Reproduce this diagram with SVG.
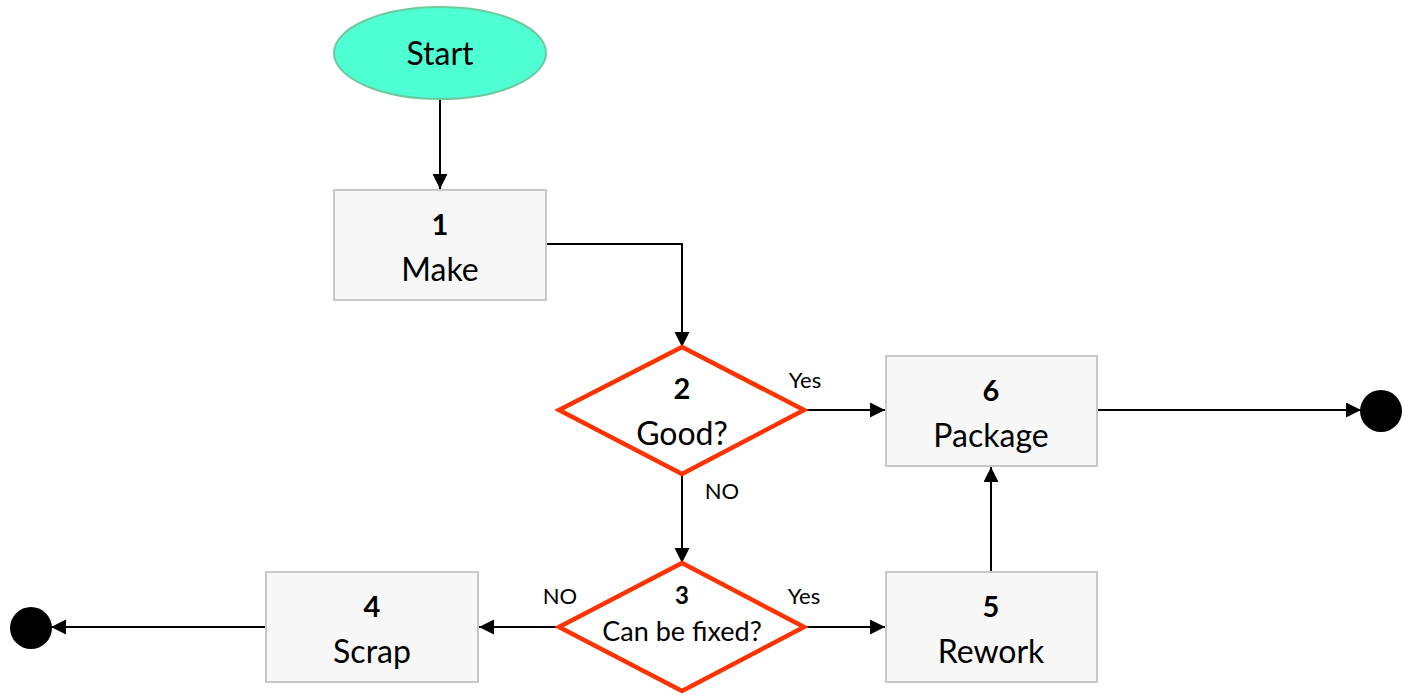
<svg xmlns="http://www.w3.org/2000/svg" width="1402" height="695" viewBox="0 0 1402 695">
  <style>
    .box { fill: #f7f7f7; stroke: #c8c8c8; stroke-width: 2; }
    .dec { fill: #ffffff; stroke: #ff3300; stroke-width: 4.5; stroke-linejoin: miter; }
    .term { fill: #000000; }
    .wire { fill: none; stroke: #000000; stroke-width: 2; }
    text { font-family: Lato, "Noto Sans", "Liberation Sans", sans-serif; fill: #000000; text-anchor: middle; }
    .num { font-weight: bold; font-size: 29px; }
    .lbl { font-size: 32px; }
    .num-s { font-weight: bold; font-size: 24px; }
    .lbl-s { font-size: 27px; }
    .edge { font-size: 22px; }
  </style>
  <defs>
    <marker id="arrow" markerWidth="18" markerHeight="18" refX="15" refY="7.5" orient="auto" markerUnits="userSpaceOnUse">
      <path d="M0,0 L15,7.5 L0,15 Z" fill="#000000"/>
    </marker>
  </defs>

  <!-- connectors -->
  <g id="connectors">
    <path class="wire" d="M440,99 V189" marker-end="url(#arrow)"/>
    <path class="wire" d="M546,244 H682 V347" marker-end="url(#arrow)"/>
    <path class="wire" d="M804,410 H885" marker-end="url(#arrow)"/>
    <path class="wire" d="M1097,410 H1361" marker-end="url(#arrow)"/>
    <path class="wire" d="M682,474 V563" marker-end="url(#arrow)"/>
    <path class="wire" d="M559,627 H479" marker-end="url(#arrow)"/>
    <path class="wire" d="M266,627 H51" marker-end="url(#arrow)"/>
    <path class="wire" d="M804,627 H885" marker-end="url(#arrow)"/>
    <path class="wire" d="M991,572 V467" marker-end="url(#arrow)"/>
    <text class="edge" x="805" y="388">Yes</text>
    <text class="edge" x="722" y="499">NO</text>
    <text class="edge" x="560" y="604">NO</text>
    <text class="edge" x="804" y="604">Yes</text>
  </g>

  <g id="start">
    <ellipse cx="440" cy="53" rx="106" ry="46" fill="#4dffd2" stroke="#6cc9a0" stroke-width="2"/>
    <text class="lbl" x="440" y="65">Start</text>
  </g>

  <g id="n1">
    <rect class="box" x="334" y="190" width="212" height="110"/>
    <text class="num" x="440" y="235">1</text>
    <text class="lbl" x="440" y="281">Make</text>
  </g>

  <g id="n2">
    <polygon class="dec" points="682,347 804,410 682,474 559,410"/>
    <text class="num" x="682" y="399">2</text>
    <text class="lbl" x="682" y="445">Good?</text>
  </g>

  <g id="n3">
    <polygon class="dec" points="682,563 804,627 682,691 559,627"/>
    <text class="num-s" x="682" y="604">3</text>
    <text class="lbl-s" x="682" y="641">Can be fixed?</text>
  </g>

  <g id="n4">
    <rect class="box" x="266" y="572" width="212" height="110"/>
    <text class="num" x="372" y="617">4</text>
    <text class="lbl" x="372" y="663">Scrap</text>
  </g>

  <g id="n5">
    <rect class="box" x="886" y="572" width="211" height="110"/>
    <text class="num" x="991" y="617">5</text>
    <text class="lbl" x="991" y="663">Rework</text>
  </g>

  <g id="n6">
    <rect class="box" x="886" y="356" width="211" height="110"/>
    <text class="num" x="991" y="401">6</text>
    <text class="lbl" x="991" y="447">Package</text>
  </g>

  <g id="end-right">
    <circle class="term" cx="1381" cy="411" r="21"/>
  </g>

  <g id="end-left">
    <circle class="term" cx="31" cy="628" r="21"/>
  </g>
</svg>
